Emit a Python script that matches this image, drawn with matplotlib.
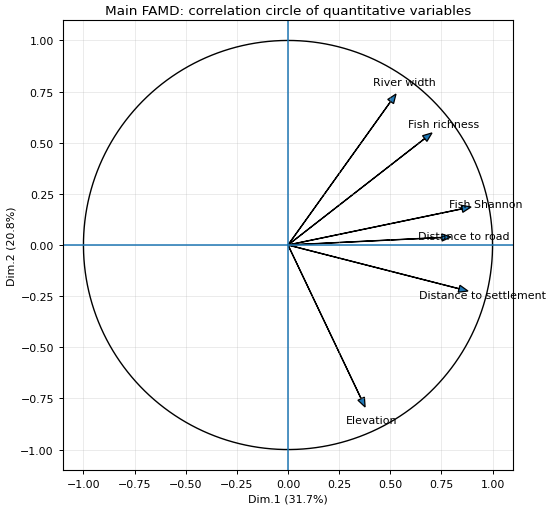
import numpy as np
import matplotlib
matplotlib.use('Agg')
import matplotlib.pyplot as plt

# Correlations of quantitative variables with Dim.1 / Dim.2
variables = ['River width', 'Fish richness', 'Fish Shannon',
             'Distance to road', 'Distance to settlement', 'Elevation']
dim1 = [0.528, 0.704, 0.895, 0.797, 0.880, 0.377]
dim2 = [0.738, 0.548, 0.186, 0.039, -0.225, -0.792]

fs = 7.9

fig = plt.figure(figsize=(5.5, 5.1), dpi=100)
ax = fig.add_axes([63 / 550, 39 / 510, 450 / 550, 450 / 510])

# unit circle
theta = np.linspace(0, 2 * np.pi, 400)
ax.plot(np.cos(theta), np.sin(theta), color='black', linewidth=1.0)

ax.axhline(0, color='C0', linewidth=1.1)
ax.axvline(0, color='C0', linewidth=1.1)

for name, x, y in zip(variables, dim1, dim2):
    ax.arrow(0, 0, x, y, head_width=0.035, head_length=0.045,
             length_includes_head=True, facecolor='C0', edgecolor='black',
             linewidth=0.9)
    ax.text(x * 1.08, y * 1.08, name, ha='center', va='center', fontsize=fs)

ax.set_xlim(-1.1, 1.1)
ax.set_ylim(-1.1, 1.1)
ax.grid(True, alpha=0.25, linewidth=0.7)
ax.set_xlabel('Dim.1 (31.7%)', fontsize=fs, labelpad=3)
ax.set_ylabel('Dim.2 (20.8%)', fontsize=fs, labelpad=3)
ax.set_title('Main FAMD: correlation circle of quantitative variables',
             fontsize=9.7, pad=4.5)
ax.tick_params(labelsize=fs, width=0.7, length=3)
for s in ax.spines.values():
    s.set_linewidth(0.8)

plt.savefig('out.png')
